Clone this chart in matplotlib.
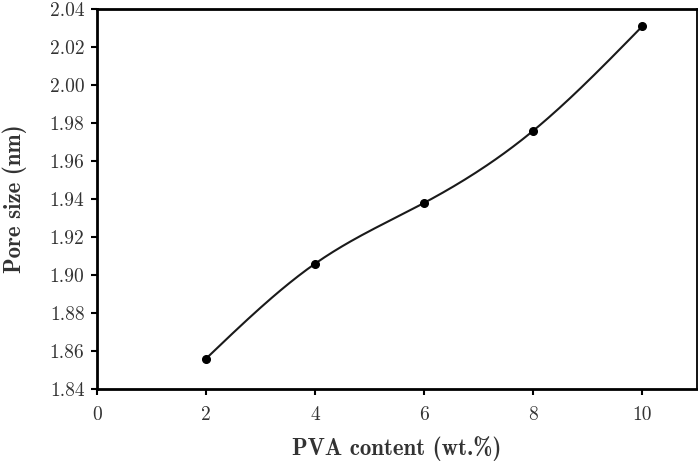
import numpy as np
import matplotlib
matplotlib.use('Agg')
import matplotlib.pyplot as plt

# data
pva = [2, 4, 6, 8, 10]
pore = [1.856, 1.906, 1.938, 1.976, 2.031]
xticks = [0, 2, 4, 6, 8, 10]
yticks = [1.84, 1.86, 1.88, 1.90, 1.92, 1.94, 1.96, 1.98, 2.00, 2.02, 2.04]


def natural_spline(x, y, num=200):
    """ natural cubic spline through the points, only used to draw the smooth line """
    x = np.asarray(x, float); y = np.asarray(y, float)
    n = len(x)
    h = np.diff(x)
    A = np.zeros((n, n)); b = np.zeros(n)
    A[0, 0] = 1; A[-1, -1] = 1
    for i in range(1, n - 1):
        A[i, i - 1] = h[i - 1]
        A[i, i] = 2 * (h[i - 1] + h[i])
        A[i, i + 1] = h[i]
        b[i] = 6 * ((y[i + 1] - y[i]) / h[i] - (y[i] - y[i - 1]) / h[i - 1])
    M = np.linalg.solve(A, b)
    xs = np.linspace(x[0], x[-1], num)
    ys = np.empty_like(xs)
    for k, xv in enumerate(xs):
        i = min(np.searchsorted(x, xv, side='right') - 1, n - 2)
        t1 = x[i + 1] - xv; t0 = xv - x[i]
        ys[k] = (M[i] * t1**3 + M[i + 1] * t0**3) / (6 * h[i]) \
            + (y[i] / h[i] - M[i] * h[i] / 6) * t1 \
            + (y[i + 1] / h[i] - M[i + 1] * h[i] / 6) * t0
    return xs, ys


plt.rcParams['font.family'] = 'cmr10'
plt.rcParams['axes.formatter.use_mathtext'] = True

fig = plt.figure(figsize=(6.98, 4.62), dpi=100)
ax = fig.add_axes([97 / 698, 1 - 389 / 462, 600 / 698, 380 / 462])

xs, ys = natural_spline(pva, pore)
ax.plot(xs, ys, color='#1a1a1a', lw=1.5)
ax.plot(pva, pore, 'o', color='black', ms=5.5)

ax.set_xlim(0, 11)
ax.set_ylim(1.84, 2.04)
ax.set_xticks(xticks)
ax.set_yticks(yticks)
ax.set_xticklabels([str(v) for v in xticks])
ax.set_yticklabels(['%.2f' % v for v in yticks])

for side in ['left', 'bottom', 'top']:
    ax.spines[side].set_linewidth(2.0)
ax.spines['right'].set_linewidth(1.3)
ax.tick_params(direction='out', length=4, width=1.5, labelsize=14,
               labelcolor='#333333', pad=5)
ax.tick_params(axis='x', pad=8)

ax.set_xlabel('PVA content (wt.%)', fontfamily='cmb10', fontsize=16.5,
              color='#333333', labelpad=9)
ax.set_ylabel('Pore size (nm)', fontfamily='cmb10', fontsize=16.5,
              color='#333333', labelpad=16)

plt.savefig('out.png', dpi=100)
